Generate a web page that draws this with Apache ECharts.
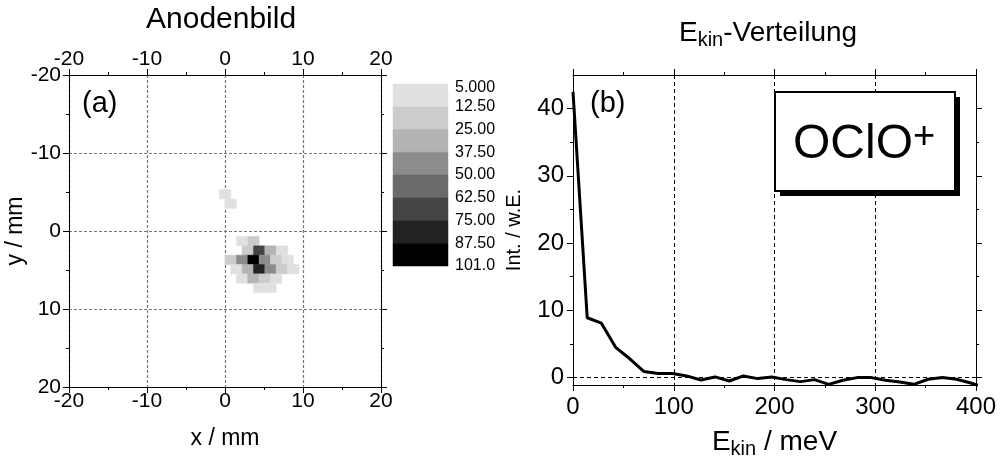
<!DOCTYPE html>
<html>
<head>
<meta charset="utf-8">
<script src="https://cdn.jsdelivr.net/npm/echarts@6/dist/echarts.min.js"></script>
<style>
  html, body { margin: 0; padding: 0; background: #fff; }
  #chart { width: 1000px; height: 464px; }
</style>
</head>
<body>
<div id="chart"></div>
<script>
// ---- Anodenbild: staggered detector cells (left edge x / top edge y in mm) and counts
const cellX = [-0.73, 0,
  1.46, 2.92,
  2.19, 3.65, 5.11, 6.57,
  0, 1.46, 2.92, 4.38, 5.84, 7.30,
  0.73, 2.19, 3.65, 5.11, 6.57, 8.03,
  1.46, 2.92, 4.38, 5.84,
  3.65, 5.11];
const cellY = [-5.3, -4.1,
  0.7, 0.7,
  1.9, 1.9, 1.9, 1.9,
  3.1, 3.1, 3.1, 3.1, 3.1, 3.1,
  4.3, 4.3, 4.3, 4.3, 4.3, 4.3,
  5.5, 5.5, 5.5, 5.5,
  6.7, 6.7];
const cellCount = [8, 8,
  8, 18,
  18, 68, 30, 8,
  18, 44, 101, 44, 18, 8,
  8, 30, 80, 44, 18, 8,
  8, 30, 18, 8,
  8, 8];

// ---- colour scale
const levels = [5, 12.5, 25, 37.5, 50, 62.5, 75, 87.5, 101];
const levelLabels = ['5.000', '12.50', '25.00', '37.50', '50.00', '62.50', '75.00', '87.50', '101.0'];

// ---- E_kin distribution
const ekin = [0, 14.1, 28.2, 42.3, 56.4, 70.5, 84.6, 98.7, 112.8, 126.9, 141.0, 155.1,
  169.2, 183.3, 197.4, 211.5, 225.6, 239.7, 253.8, 267.9, 282.0, 296.1, 310.2,
  324.3, 338.4, 352.5, 366.6, 380.7, 394.8, 408.9];
const intensity = [42.5, 8.9, 8.1, 4.5, 2.8, 0.9, 0.6, 0.6, 0.25, -0.35, 0.1, -0.5,
  0.25, -0.15, 0.1, -0.3, -0.6, -0.3, -1.0, -0.4, 0.0, 0.0, -0.4,
  -0.65, -1.0, -0.25, 0.0, -0.25, -0.8, -1.5];

// ---- tick values
const intTicks = [0, 10, 20, 30, 40];
const intMinorTicks = [5, 15, 25, 35];

// cell footprint of the staggered anode grid (mm)
const CELL_W = 1.46;
const CELL_H = 1.2;
const bandColors = ['#e0e0e0', '#cccccc', '#b4b4b4', '#8c8c8c', '#6a6a6a', '#444444', '#222222', '#000000'];

function colorFor(v) {
  for (let k = levels.length - 2; k >= 0; k--) {
    if (v >= levels[k]) return bandColors[k];
  }
  return '#ffffff';
}

const FONT = 'Liberation Sans';
const black = '#000';

function rectFrom(api, a, b) {
  const p0 = api.coord(a), p1 = api.coord(b);
  return {
    x: Math.min(p0[0], p1[0]), y: Math.min(p0[1], p1[1]),
    width: Math.abs(p1[0] - p0[0]), height: Math.abs(p1[1] - p0[1])
  };
}

const lineAxis = { show: true, onZero: false, lineStyle: { color: black, width: 1 } };
const noLine = { show: false, onZero: false };
const outTick = (len) => ({ show: true, inside: false, length: len, lineStyle: { color: black, width: 1 } });
const minor = { show: true, splitNumber: 2, length: 3, lineStyle: { color: black, width: 1 } };
const dotted = { show: true, lineStyle: { color: '#777', width: 1.2, type: [3, 2] } };
const dashed = { show: true, lineStyle: { color: black, width: 1, type: [4, 3] } };

const posAxisBase = { type: 'value', min: -20, max: 20, interval: 10, gridIndex: 0,
  axisLine: lineAxis, axisTick: outTick(6), minorTick: minor, splitLine: { show: false } };

const ekinRich = {
  e: { fontSize: 28, color: black, fontFamily: FONT },
  s: { fontSize: 20, color: black, fontFamily: FONT, padding: [13, 0, 0, 0] }
};

const chart = echarts.init(document.getElementById('chart'), null, { renderer: 'canvas' });

chart.setOption({
  animation: false,
  backgroundColor: '#fff',
  textStyle: { fontFamily: FONT },
  title: [
    {
      text: 'Anodenbild', left: 146, top: 5, padding: 0,
      textStyle: { fontSize: 30, fontWeight: 'normal', color: black, fontFamily: FONT }
    },
    {
      text: '{e|E}{s|kin}{e|-Verteilung}', left: 679, top: 17, padding: 0,
      textStyle: { fontSize: 28, fontWeight: 'normal', color: black, fontFamily: FONT, rich: ekinRich }
    }
  ],
  grid: [
    { left: 69, top: 75, width: 312, height: 312 },
    { left: 573, top: 75, width: 403, height: 312 },
    { left: 393, top: 84, width: 55, height: 182 }
  ],
  xAxis: [
    Object.assign({}, posAxisBase, {
      position: 'bottom', splitLine: dotted,
      axisLabel: { fontSize: 21, color: black, margin: 4, fontFamily: FONT },
      name: 'x / mm', nameLocation: 'middle', nameGap: 40,
      nameTextStyle: { fontSize: 23, color: black, fontFamily: FONT }
    }),
    Object.assign({}, posAxisBase, {
      position: 'top',
      axisLabel: { fontSize: 21, color: black, margin: 5, fontFamily: FONT }
    }),
    {
      type: 'value', gridIndex: 1, position: 'bottom', min: 0, max: 400, interval: 100,
      axisLine: lineAxis, axisTick: outTick(6), minorTick: minor, splitLine: dashed,
      axisLabel: { fontSize: 24, color: black, margin: 10, fontFamily: FONT },
      name: '{e|E}{s|kin}{e| / meV}', nameLocation: 'middle', nameGap: 41,
      nameTextStyle: { color: black, fontFamily: FONT, fontSize: 28, rich: ekinRich }
    },
    {
      type: 'value', gridIndex: 1, position: 'top', min: 0, max: 400, interval: 100,
      axisLine: lineAxis, axisTick: outTick(6), minorTick: minor, splitLine: { show: false },
      axisLabel: { show: false }
    },
    {
      type: 'value', gridIndex: 2, min: 0, max: 1, show: false
    }
  ],
  yAxis: [
    Object.assign({}, posAxisBase, {
      position: 'left', inverse: true, splitLine: dotted,
      axisLabel: { fontSize: 21, color: black, margin: 8, fontFamily: FONT },
      name: 'y / mm', nameLocation: 'middle', nameGap: 36,
      nameTextStyle: { fontSize: 23, color: black, fontFamily: FONT }
    }),
    Object.assign({}, posAxisBase, {
      position: 'right', inverse: true, axisLabel: { show: false }
    }),
    {
      type: 'value', gridIndex: 1, position: 'left', min: -1.1, max: 45,
      axisLine: lineAxis,
      axisTick: Object.assign(outTick(6), { customValues: intTicks }),
      axisLabel: { fontSize: 24, color: black, margin: 9, fontFamily: FONT, customValues: intTicks },
      splitLine: { show: false },
      name: 'Int. / w.E.', nameLocation: 'middle', nameGap: 49,
      nameTextStyle: { fontSize: 20, color: black, fontFamily: FONT }
    },
    {
      type: 'value', gridIndex: 1, position: 'left', min: -1.1, max: 45,
      axisLine: noLine,
      axisTick: Object.assign(outTick(3), { customValues: intMinorTicks }),
      axisLabel: { show: false }, splitLine: { show: false }
    },
    {
      type: 'value', gridIndex: 1, position: 'right', min: -1.1, max: 45,
      axisLine: lineAxis,
      axisTick: Object.assign(outTick(6), { customValues: intTicks }),
      axisLabel: { show: false }, splitLine: { show: false }
    },
    {
      type: 'value', gridIndex: 1, position: 'right', min: -1.1, max: 45,
      axisLine: noLine,
      axisTick: Object.assign(outTick(3), { customValues: intMinorTicks }),
      axisLabel: { show: false }, splitLine: { show: false }
    },
    {
      type: 'value', gridIndex: 2, position: 'right', min: 0, max: 8, interval: 1, inverse: true,
      axisLine: noLine, axisTick: { show: false }, splitLine: { show: false },
      axisLabel: {
        show: true, fontSize: 16, color: black, margin: 7, fontFamily: FONT,
        formatter: (v) => v === 0 ? '{f|' + levelLabels[0] + '}' : levelLabels[v],
        rich: { f: { fontSize: 16, color: black, fontFamily: FONT, padding: [8, 0, 0, 0] } }
      }
    }
  ],
  series: [
    {
      type: 'custom', name: 'Anodenbild', xAxisIndex: 0, yAxisIndex: 0, clip: true,
      data: cellX.map((x, i) => [x, cellY[i], cellCount[i]]),
      renderItem: (params, api) => {
        const x = api.value(0), y = api.value(1), c = colorFor(api.value(2));
        return {
          type: 'rect',
          shape: rectFrom(api, [x, y], [x + CELL_W, y + CELL_H]),
          style: { fill: c, stroke: c, lineWidth: 0.5 }
        };
      }
    },
    {
      type: 'custom', name: 'Farbskala', xAxisIndex: 4, yAxisIndex: 6,
      data: levels.slice(0, -1).map((v, i) => [i, v]),
      renderItem: (params, api) => {
        const i = api.value(0), c = bandColors[i];
        return {
          type: 'rect',
          shape: rectFrom(api, [0, i], [1, i + 1]),
          style: { fill: c, stroke: c, lineWidth: 0.5 }
        };
      }
    },
    {
      type: 'line', name: 'Ekin', xAxisIndex: 2, yAxisIndex: 2, clip: true,
      data: ekin.map((x, i) => [x, intensity[i]]),
      showSymbol: false, symbol: 'none',
      lineStyle: { color: black, width: 3 },
      markLine: {
        silent: true, symbol: 'none', label: { show: false },
        lineStyle: { color: black, width: 1, type: [4, 3] },
        data: [{ yAxis: 0 }]
      }
    }
  ],
  graphic: [
    { type: 'text', style: { text: '(a)', x: 82, y: 89, textVerticalAlign: 'top', verticalAlign: 'top',
        font: '29px "Liberation Sans"', fill: black } },
    { type: 'text', style: { text: '(b)', x: 590, y: 89, textVerticalAlign: 'top', verticalAlign: 'top',
        font: '29px "Liberation Sans"', fill: black } },
    // OClO+ label box with drop shadow
    { type: 'rect', shape: { x: 780, y: 97, width: 180, height: 99 }, style: { fill: black }, z: 10 },
    { type: 'rect', shape: { x: 775, y: 92, width: 180, height: 99 },
      style: { fill: '#fff', stroke: black, lineWidth: 2 }, z: 11 },
    { type: 'text', z: 12, style: { text: 'OClO', x: 793, y: 121, textVerticalAlign: 'top', verticalAlign: 'top',
        font: '48px "Liberation Sans"', fill: black } },
    { type: 'text', z: 12, style: { text: '+', x: 913, y: 119, textVerticalAlign: 'top', verticalAlign: 'top',
        font: '38px "Liberation Sans"', fill: black } }
  ]
});
</script>
</body>
</html>
